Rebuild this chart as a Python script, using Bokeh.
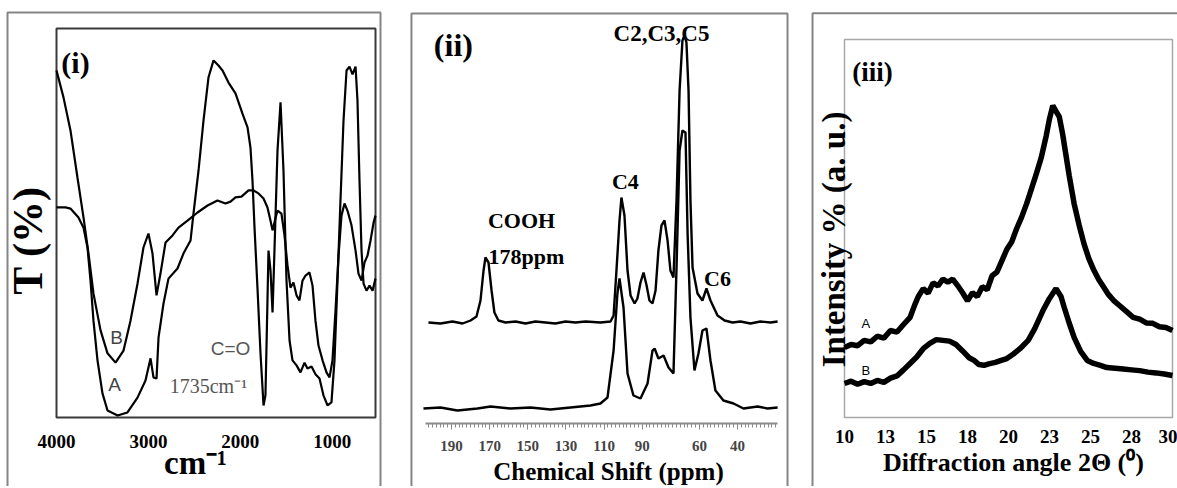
import math
from bokeh.plotting import figure
from bokeh.models import Range1d, FixedTicker, Label
from bokeh.layouts import row
from bokeh.embed import file_html
from bokeh.resources import INLINE

SERIF = "Liberation Serif"
SANS = "Liberation Sans"

# ---------------- Panel (i) FTIR ----------------
ftir_wn_A = [4000, 3902, 3848, 3761, 3706, 3663, 3630, 3598, 3554, 3500, 3445, 3336, 3228, 3119, 3032,
             2977, 2945, 2912, 2890, 2836, 2782, 2684, 2618, 2542, 2510, 2455, 2401, 2347, 2292, 2238,
             2194, 2129, 2053, 1977, 1922, 1890, 1868, 1846, 1814, 1781, 1748, 1727, 1705, 1694, 1672,
             1650, 1629, 1596, 1563, 1531, 1498, 1465, 1433, 1389, 1346, 1302, 1270, 1226, 1183, 1139,
             1096, 1052, 1009, 976, 943, 911, 878, 845, 813, 780, 747, 726, 704, 682, 660, 628, 595, 562, 530]
ftir_T_A = [54.0, 54.0, 53.7, 51.4, 48.8, 43.7, 35.2, 24.9, 14.7, 6.2, 1.8, 0.5, 1.3, 5.1, 9.5,
            15.2, 10.3, 10.0, 20.6, 29.3, 35.7, 38.3, 42.2, 45.5, 52.4, 63.5, 76.3, 87.4, 91.8, 90.5,
            89.2, 86.1, 83.3, 78.1, 74.6, 69.4, 60.9, 48.8, 33.4, 16.5, 3.1, 5.7, 30.1, 42.9, 37.8,
            27.0, 42.9, 68.6, 81.0, 63.5, 35.2, 19.8, 14.7, 13.4, 11.6, 14.1, 12.6, 13.1, 11.1, 10.0,
            5.7, 3.1, 3.9, 14.7, 35.2, 55.8, 76.3, 89.2, 90.2, 88.2, 90.2, 81.5, 60.9, 42.9, 34.4, 32.6, 33.9, 32.6, 35.7]
ftir_wn_B = [4000, 3924, 3848, 3772, 3706, 3652, 3598, 3521, 3445, 3358, 3271, 3195, 3119, 3054, 3000,
             2956, 2912, 2869, 2814, 2738, 2673, 2575, 2466, 2357, 2249, 2162, 2107, 2053, 1988, 1911,
             1857, 1803, 1748, 1705, 1672, 1650, 1618, 1596, 1553, 1520, 1487, 1455, 1422, 1389, 1357,
             1324, 1291, 1248, 1215, 1183, 1150, 1106, 1063, 1030, 998, 965, 932, 900, 867, 835,
             791, 747, 715, 682, 650, 617, 584, 551, 530]
ftir_T_B = [89.2, 82.3, 73.8, 61.7, 51.4, 42.2, 31.9, 22.4, 16.5, 14.1, 17.2, 24.9, 34.4, 43.7, 47.3,
            42.2, 31.4, 37.0, 45.0, 46.8, 48.8, 50.6, 52.7, 54.5, 55.8, 55.0, 55.5, 56.6, 56.8, 58.4,
            58.4, 57.6, 56.3, 54.0, 50.6, 48.1, 51.2, 53.2, 52.4, 46.8, 39.1, 33.4, 34.7, 31.4, 30.1,
            35.2, 36.5, 37.3, 33.9, 24.9, 18.5, 14.7, 11.6, 10.3, 14.7, 27.5, 41.6, 51.9, 55.0, 53.2,
            49.4, 42.9, 37.0, 35.2, 39.8, 41.6, 45.5, 50.1, 51.9]
ftir_ticks = [4000, 3000, 2000, 1000]
ftir_x_limits = (4000, 530)
ftir_y_limits = (0, 100)

# ---------------- Panel (ii) 13C NMR ----------------
nmr_ppm_upper = [202.1, 195.8, 189.5, 184.2, 180.0, 176.9, 174.8, 173.2, 172.2, 170.6,
                 169.0, 167.5, 165.4, 161.7, 156.4, 151.2, 146.0, 140.7, 135.5, 130.2,
                 125.0, 119.7, 111.9, 106.6, 105.0, 103.5, 101.9, 100.9, 99.3, 97.7,
                 96.1, 94.0, 92.5, 90.9, 89.3, 87.7, 86.2, 84.6, 83.0, 81.5,
                 79.9, 78.3, 76.7, 75.2, 73.6, 72.0, 70.4, 68.9, 67.8, 66.8,
                 65.7, 64.7, 63.6, 61.0, 58.4, 56.3, 54.2, 50.5, 46.8, 42.6,
                 38.5, 33.2, 28.0, 22.7, 19.0]
nmr_int_upper = [25.25, 25.0, 25.5, 25.0, 25.75, 26.75, 30.75, 38.25, 41.5, 40.25,
                 33.25, 27.75, 25.75, 25.25, 25.5, 25.0, 25.5, 25.25, 25.0, 25.5,
                 25.25, 25.5, 25.25, 25.5, 27.0, 38.25, 50.75, 56.5, 52.0, 38.25,
                 32.0, 30.0, 31.25, 35.25, 37.75, 34.5, 30.75, 30.0, 33.25, 43.25,
                 49.5, 50.75, 45.75, 38.25, 36.5, 55.75, 83.25, 95.75, 97.0, 95.25,
                 83.25, 55.75, 39.0, 32.5, 30.75, 33.75, 30.75, 27.0, 25.75, 25.25,
                 25.5, 25.0, 25.5, 25.25, 25.5]
nmr_ppm_lower = [204.7, 195.8, 186.9, 176.4, 169.5, 159.1, 148.6, 138.1, 127.6, 117.1,
                 111.9, 108.2, 105.0, 103.0, 101.9, 99.8, 97.7, 94.6, 90.9, 87.2,
                 84.6, 83.5, 81.5, 78.8, 76.2, 73.6, 72.0, 70.4, 68.9, 67.3,
                 66.2, 64.7, 62.6, 60.5, 58.4, 56.3, 54.2, 51.6, 47.4, 42.1,
                 36.9, 29.5, 24.3, 19.0]
nmr_int_lower = [3.75, 4.0, 3.25, 3.75, 4.25, 3.75, 4.0, 3.5, 4.0, 4.5,
                 5.0, 6.5, 18.25, 32.5, 36.25, 29.0, 12.5, 7.0, 6.25, 10.0,
                 18.25, 18.75, 16.25, 17.0, 14.0, 12.5, 39.0, 68.25, 73.25, 72.75,
                 47.5, 26.5, 13.25, 17.5, 23.25, 23.75, 15.75, 8.25, 5.75, 5.0,
                 3.75, 4.25, 3.75, 4.0]
nmr_ticks = [190, 170, 150, 130, 110, 90, 60, 40]
nmr_minor_ticks = list(range(20, 204, 2))
nmr_axis_bounds = (19.0, 203.6)

# ---------------- Panel (iii) XRD ----------------
xrd_deg_A = [10.0, 10.4, 10.8, 11.2, 11.6, 12.0, 12.4, 12.8, 13.2, 13.6, 14.0, 14.3, 14.5, 14.8,
             15.1, 15.4, 15.7, 16.0, 16.3, 16.6, 16.9, 17.2, 17.5, 17.8, 18.1, 18.4, 18.7, 19.0,
             19.3, 19.6, 19.9, 20.2, 20.5, 20.8, 21.1, 21.4, 21.7, 22.0, 22.3, 22.5, 22.7, 22.9,
             23.1, 23.3, 23.5, 23.7, 24.0, 24.3, 24.6, 24.9, 25.2, 25.5, 25.8, 26.1, 26.4, 26.8,
             27.2, 27.6, 28.0, 28.4, 28.8, 29.2, 29.6, 30.0]
xrd_int_A = [18.5, 19.3, 19.0, 20.4, 20.0, 21.5, 21.0, 23.0, 22.6, 24.6, 26.5, 30.0, 32.0, 34.1,
             32.9, 35.6, 34.8, 36.6, 35.8, 36.6, 34.9, 33.0, 30.9, 33.0, 32.0, 34.6, 33.8, 37.5,
             38.5, 41.5, 44.5, 46.5, 50.0, 53.0, 56.5, 60.5, 64.5, 68.8, 74.5, 79.0, 82.5, 81.0,
             79.5, 75.0, 69.5, 64.0, 56.6, 51.0, 46.0, 42.0, 39.0, 36.5, 34.5, 32.5, 31.0, 29.5,
             28.0, 26.5, 26.0, 25.0, 24.9, 24.0, 23.8, 23.0]
xrd_deg_B = [10.0, 10.4, 10.8, 11.2, 11.6, 12.0, 12.4, 12.8, 13.2, 13.6, 14.0, 14.4, 14.8, 15.2,
             15.6, 16.0, 16.4, 16.8, 17.2, 17.6, 17.9, 18.2, 18.5, 18.8, 19.2, 19.6, 19.9, 20.3,
             20.7, 21.2, 21.6, 22.1, 22.5, 22.9, 23.2, 23.4, 23.7, 24.0, 24.4, 24.8, 25.2, 25.6,
             26.0, 26.5, 27.0, 27.5, 28.0, 28.5, 29.0, 29.5, 30.0]
xrd_int_B = [9.0, 9.6, 8.8, 9.5, 9.0, 9.8, 9.3, 10.4, 11.0, 12.6, 14.3, 16.0, 18.2, 19.6,
             20.6, 20.4, 20.2, 19.3, 17.6, 15.8, 15.1, 14.0, 13.8, 14.2, 14.6, 15.2, 15.6, 16.8,
             18.2, 20.4, 23.5, 28.3, 31.5, 34.1, 32.0, 29.1, 25.0, 21.2, 17.5, 15.1, 14.3, 13.8,
             13.2, 13.0, 12.8, 12.6, 12.4, 12.0, 11.8, 11.5, 11.1]
xrd_ticks = [10, 12.5, 15, 17.5, 20, 22.5, 25, 27.5, 30]
xrd_tick_labels = ["10", "13", "15", "18", "20", "23", "25", "28", "30"]
xrd_x_limits = (10, 30)
xrd_y_limits = (0, 100)

H = 486
BORDER = "#858585"


def make_fig(w, xr, yr):
    p = figure(width=w, height=H, x_range=xr, y_range=yr, output_backend="svg",
               toolbar_location=None, y_axis_location=None, title=None,
               min_border_left=0, min_border_right=0, min_border_top=0, min_border_bottom=0)
    p.xgrid.visible = False
    p.ygrid.visible = False
    p.background_fill_color = "white"
    p.border_fill_color = "white"
    p.outline_line_color = None
    return p


def add_label(p, x, y, text, size, font=SERIF, style="bold", color="black", angle=0.0):
    p.add_layout(Label(x=x, y=y, text=text, text_font=font, text_font_size=f"{size}px",
                       text_font_style=style, text_color=color, text_align="center",
                       text_baseline="middle", angle=angle))


def add_border(p, l, r, t, b):
    p.line([l, l, r, r], [b, t, t, b], line_color=BORDER, line_width=2)


def style_xaxis(p, ticks, size, standoff, bounds, overrides=None):
    ax = p.xaxis[0]
    ax.fixed_location = 0
    ax.bounds = bounds
    ax.ticker = FixedTicker(ticks=ticks)
    ax.major_label_text_font = SERIF
    ax.major_label_text_font_style = "bold"
    ax.major_label_text_font_size = f"{size}px"
    ax.major_label_text_color = "black"
    ax.major_label_standoff = standoff
    ax.axis_line_color = None
    ax.major_tick_line_color = None
    ax.minor_tick_line_color = None
    ax.major_tick_out = 0
    ax.major_tick_in = 0
    ax.minor_tick_out = 0
    ax.minor_tick_in = 0
    if overrides:
        ax.major_label_overrides = overrides


# ---- figure 1 : FTIR ----
p1 = make_fig(395, Range1d(4609.2, 312.4), Range1d(-17.74, 107.2))
style_xaxis(p1, ftir_ticks, 19, 18, (530, 4000))
p1.quad(left=[ftir_x_limits[0]], right=[ftir_x_limits[1]], bottom=[ftir_y_limits[0]], top=[ftir_y_limits[1]],
        fill_color=None, line_color="#3a3a3a", line_width=2)
p1.line(ftir_wn_A, ftir_T_A, line_color="black", line_width=2.2)
p1.line(ftir_wn_B, ftir_T_B, line_color="black", line_width=2.2)
add_border(p1, 4533, 475.5, 104.1, -30)
add_label(p1, 3793, 91.3, "(i)", 30)
add_label(p1, 3347, 20.6, "B", 19, font=SANS, style="normal", color="#444444")
add_label(p1, 3369, 8.5, "A", 19, font=SANS, style="normal", color="#444444")
add_label(p1, 2107, 17.7, "C=O", 19, font=SANS, style="normal", color="#555555")
add_label(p1, 2347, 8.2, "1735cm\u207b\u00b9", 20, style="normal", color="#555555")
add_label(p1, 4305, 45.5, "T (%)", 42, angle=math.pi / 2)
add_label(p1, 2488, -11.6, "cm\u207b\u00b9", 33)

# ---- figure 2 : 13C NMR ----
p2 = make_fig(405, Range1d(219.37, 6.99), Range1d(-15.75, 105.75))
ax2 = p2.xaxis[0]
ax2.fixed_location = 0
ax2.bounds = nmr_axis_bounds
ax2.ticker = FixedTicker(ticks=nmr_ticks, minor_ticks=nmr_minor_ticks)
ax2.axis_line_color = "#8a8a8a"
ax2.axis_line_width = 2
ax2.major_tick_line_color = "#8a8a8a"
ax2.minor_tick_line_color = "#8a8a8a"
ax2.major_tick_out = 6
ax2.major_tick_in = 0
ax2.minor_tick_out = 4
ax2.minor_tick_in = 0
ax2.major_label_text_font = SERIF
ax2.major_label_text_font_style = "bold"
ax2.major_label_text_font_size = "15px"
ax2.major_label_standoff = 11
p2.line(nmr_ppm_upper, nmr_int_upper, line_color="black", line_width=2.4)
p2.line(nmr_ppm_lower, nmr_int_lower, line_color="black", line_width=2.4)
add_border(p2, 211.0, 13.8, 102.5, -30)
add_label(p2, 189.0, 94.75, "(ii)", 32)
add_label(p2, 79.9, 97.5, "C2,C3,C5", 23)
add_label(p2, 98.8, 60.5, "C4", 22)
add_label(p2, 153.3, 50.75, "COOH", 22)
add_label(p2, 150.7, 41.75, "178ppm", 22)
add_label(p2, 50.5, 36.25, "C6", 22)
add_label(p2, 107.7, -12.0, "Chemical Shift (ppm)", 25)

# ---- figure 3 : XRD ----
p3 = make_fig(377, Range1d(7.317, 30.305), Range1d(-18.25, 110.3))
style_xaxis(p3, xrd_ticks, 19, 12, (10, 30),
            overrides={t: s for t, s in zip(xrd_ticks, xrd_tick_labels)})
p3.quad(left=[xrd_x_limits[0]], right=[xrd_x_limits[1]], bottom=[xrd_y_limits[0]], top=[xrd_y_limits[1]],
        fill_color=None, line_color="#a8a8a8", line_width=1.5)
p3.line(xrd_deg_A, xrd_int_A, line_color="black", line_width=5.5)
p3.line(xrd_deg_B, xrd_int_B, line_color="black", line_width=5.5)
add_border(p3, 8.05, 31.5, 106.9, -30)
add_label(p3, 11.7, 91.3, "(iii)", 27)
add_label(p3, 11.3, 24.9, "A", 13, font=SANS, style="normal")
add_label(p3, 11.3, 12.4, "B", 13, font=SANS, style="normal")
add_label(p3, 9.33, 47.1, "Intensity % (a. u.)", 33, angle=math.pi / 2)
add_label(p3, 20.3, -11.9, "Diffraction angle 2\u0398 (\u2070)", 26)

layout = row(p1, p2, p3)
open("out.html", "w").write(file_html(layout, INLINE))
